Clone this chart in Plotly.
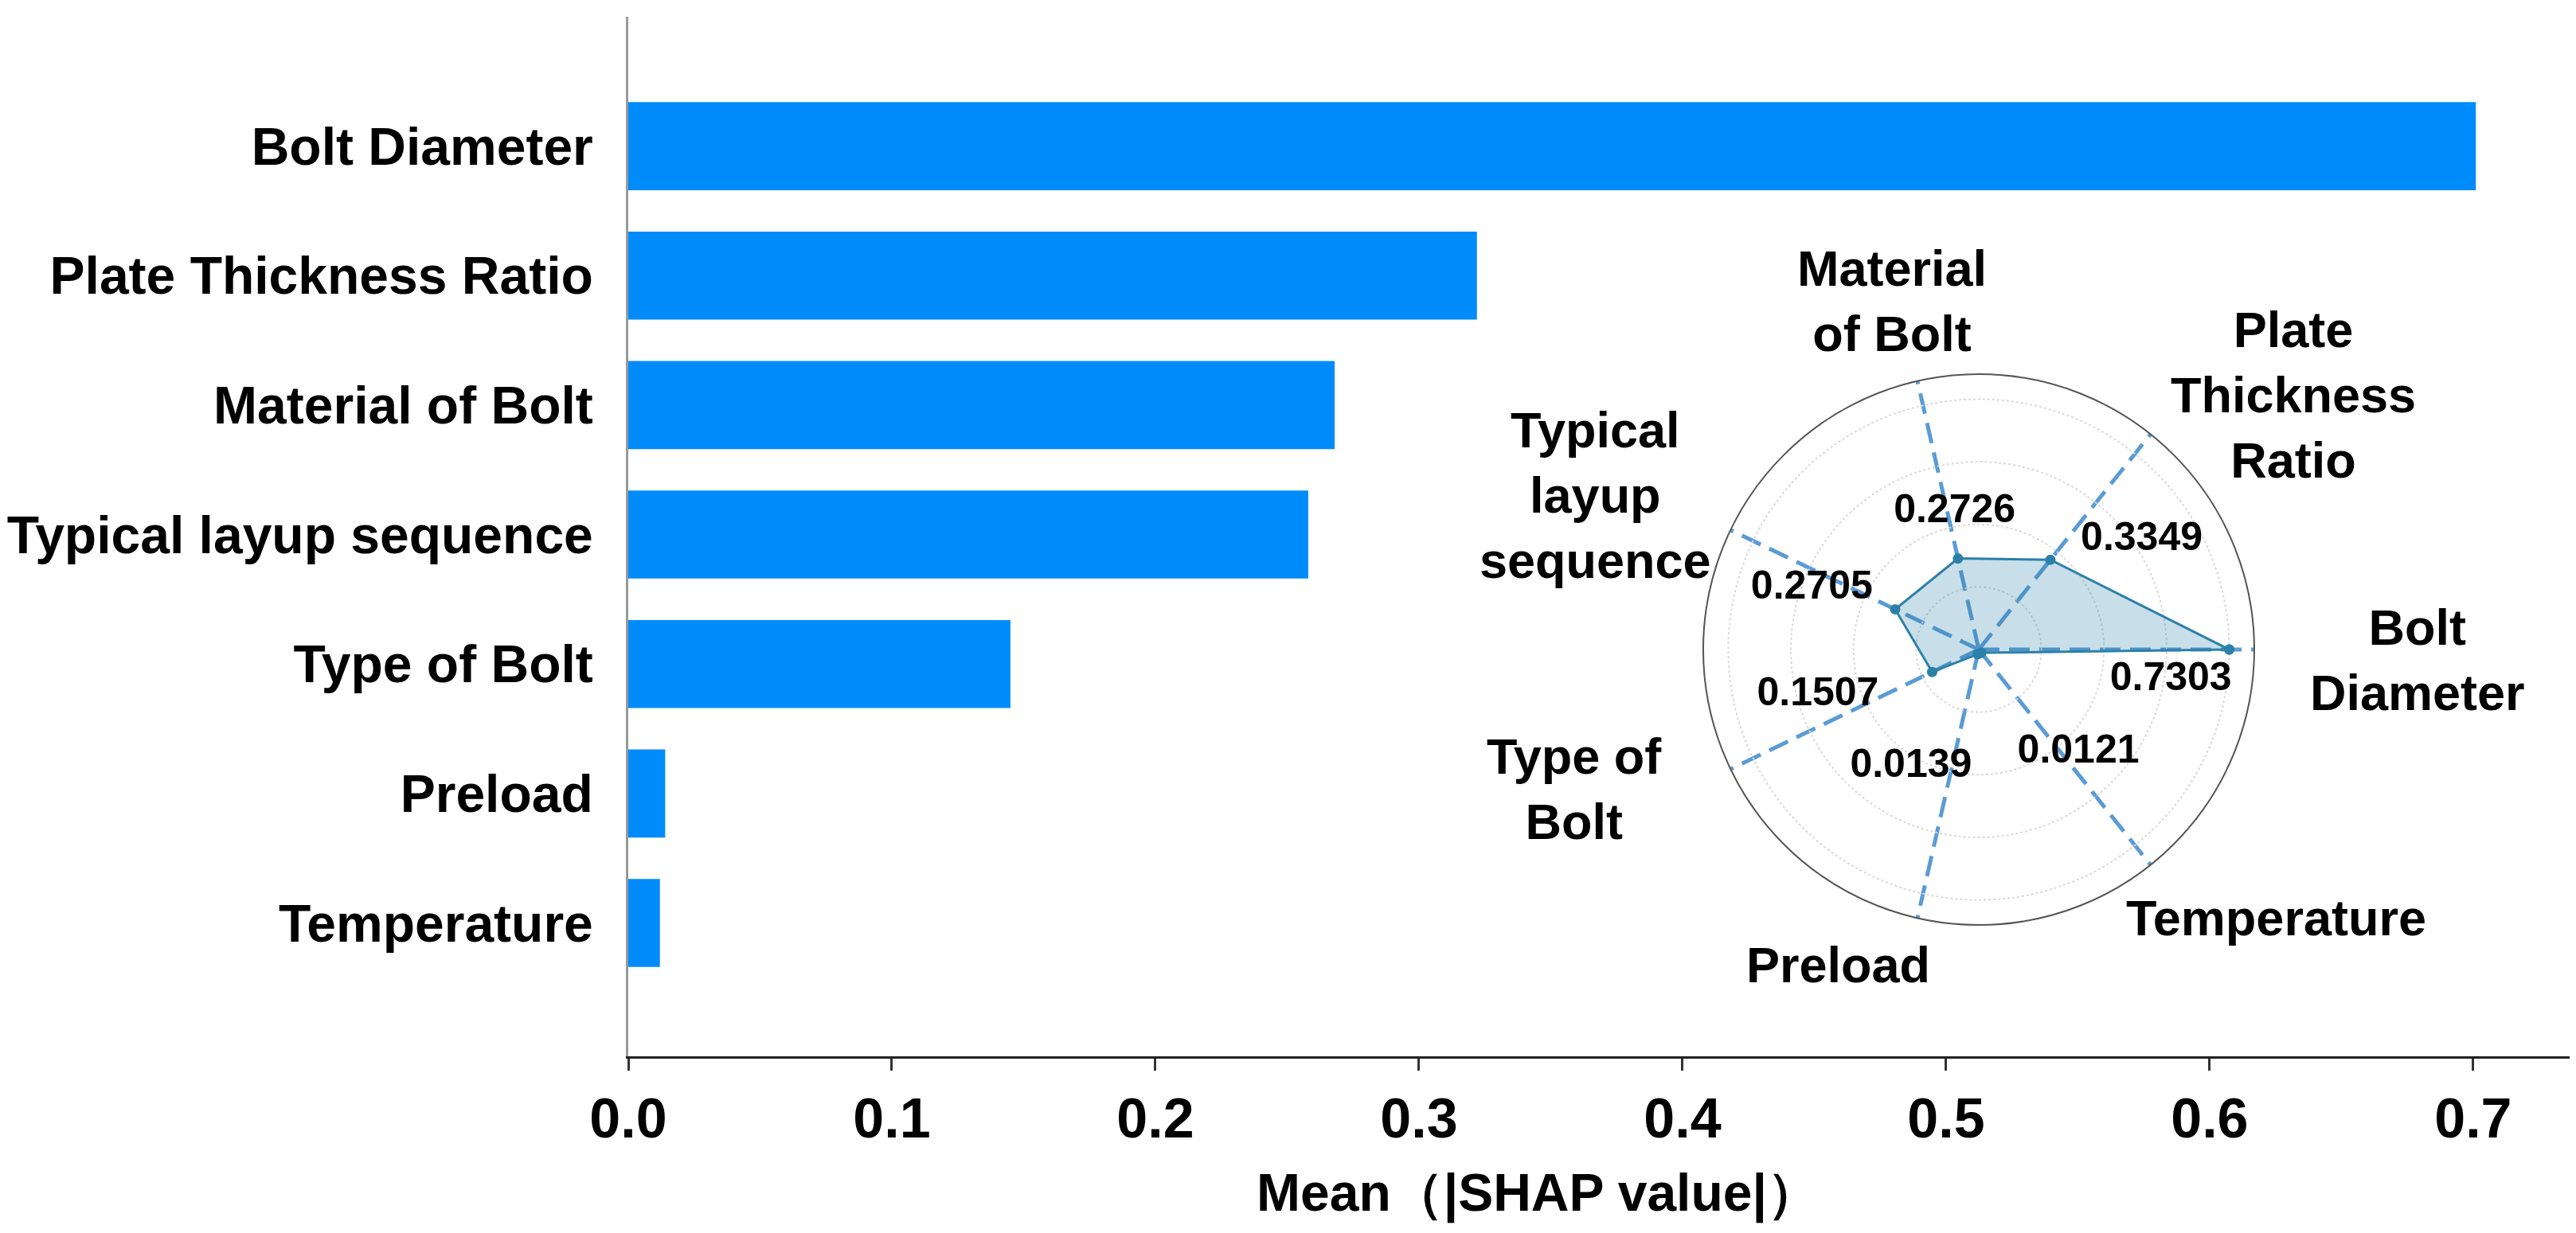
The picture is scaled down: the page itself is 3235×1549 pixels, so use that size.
import math
import plotly.graph_objects as go

# ---------------- data ----------------
features = ["Bolt Diameter", "Plate Thickness Ratio", "Material of Bolt",
            "Typical layup sequence", "Type of Bolt", "Preload", "Temperature"]
bar_values = [0.701, 0.322, 0.268, 0.258, 0.145, 0.014, 0.012]

radar_labels = ["Bolt<br>Diameter", "Plate<br>Thickness<br>Ratio", "Material<br>of Bolt",
                "Typical<br>layup<br>sequence", "Type of<br>Bolt", "Preload", "Temperature"]
radar_values = [0.7303, 0.3349, 0.2726, 0.2705, 0.1507, 0.0139, 0.0121]

x_ticks = [0.0, 0.1, 0.2, 0.3, 0.4, 0.5, 0.6, 0.7]
x_title = "Mean（|SHAP value|）"

# label placement for the inset radar (angle in degrees, distance from centre)
value_label_angle = [351, 34, 100, 160, 196, 240, 314]
value_label_dist = [0.567, 0.573, 0.406, 0.518, 0.488, 0.395, 0.418]   # radial units
cat_label_angle = [-1.4, 39, 104, 158, 199, 246, 318]
cat_label_dist = [551, 508, 451, 519, 537, 433, 503]                     # pixels

# ---------------- layout constants ----------------
W, H = 3235, 1549
ML, MR, MT, MB = 781, 12, 13, 230
PW, PH = W - ML - MR, H - MT - MB
FONT = "Liberation Sans, Arial, sans-serif"
BAR_COLOR = "#008bfb"
POLY_COLOR = "#2b80a8"

polar_dom_x = [0.5528, 0.8362]
polar_dom_y = [0.1263, 0.6562]

fig = go.Figure()

fig.add_trace(go.Bar(
    x=bar_values, y=features, orientation="h",
    marker=dict(color=BAR_COLOR, line=dict(width=0)),
    width=0.68, showlegend=False, hoverinfo="x+y",
))

n = len(radar_values)
theta = [i * 360.0 / n for i in range(n)]
rmax = max(radar_values) * 1.1

fig.add_trace(go.Scatterpolar(
    r=radar_values + [radar_values[0]],
    theta=theta + [theta[0]],
    mode="lines+markers",
    fill="toself",
    fillcolor="rgba(43,128,168,0.26)",
    line=dict(color=POLY_COLOR, width=3),
    marker=dict(color=POLY_COLOR, size=13),
    showlegend=False,
    subplot="polar",
))

fig.add_trace(go.Scatterpolar(
    r=value_label_dist,
    theta=value_label_angle,
    mode="text",
    text=[f"{v:.4f}" for v in radar_values],
    textfont=dict(family=FONT, size=50, color="black", weight="bold"),
    showlegend=False,
    hoverinfo="skip",
    subplot="polar",
))

# category labels around the radar as annotations
cx = ML + PW * (polar_dom_x[0] + polar_dom_x[1]) / 2
cy = MT + PH * (1 - (polar_dom_y[0] + polar_dom_y[1]) / 2)
annotations = []
for lab, ang, dist in zip(radar_labels, cat_label_angle, cat_label_dist):
    px = cx + dist * math.cos(math.radians(ang))
    py = cy - dist * math.sin(math.radians(ang))
    annotations.append(dict(
        x=(px - ML) / PW, y=(MT + PH - py) / PH, xref="paper", yref="paper",
        text=f"<b>{lab}</b>", showarrow=False, xanchor="center", yanchor="middle",
        align="center", font=dict(family=FONT, size=63, color="black"),
    ))

annotations.append(dict(
    x=(1923 - ML) / PW, y=(MT + PH - 1491) / PH, xref="paper", yref="paper",
    text=f"<b>{x_title}</b>", showarrow=False, xanchor="center", yanchor="middle",
    font=dict(family=FONT, size=66, color="black"),
))

fig.update_layout(
    width=W, height=H,
    margin=dict(l=ML, r=MR, t=MT, b=MB, pad=0, autoexpand=False),
    paper_bgcolor="white", plot_bgcolor="white",
    font=dict(family=FONT, color="black"),
    bargap=0.32,
    xaxis=dict(
        range=[0, 0.7378], tickvals=x_ticks, ticktext=[f"{v:.1f}" for v in x_ticks],
        showgrid=False, zeroline=False, automargin=False,
        showline=True, linecolor="#222222", linewidth=3,
        ticks="outside", ticklen=15, tickwidth=3, tickcolor="#333333",
        tickfont=dict(family=FONT, size=70, color="black", weight="bold"),
    ),
    yaxis=dict(
        categoryorder="array", categoryarray=features[::-1],
        range=[-1.03, 7.0], automargin=False,
        showgrid=False, zeroline=False,
        showline=True, linecolor="#999999", linewidth=3,
        ticks="outside", ticklen=28, tickcolor="rgba(0,0,0,0)",
        tickfont=dict(family=FONT, size=66, color="black", weight="bold"),
    ),
    polar=dict(
        domain=dict(x=polar_dom_x, y=polar_dom_y),
        bgcolor="rgba(0,0,0,0)",
        angularaxis=dict(
            type="linear", thetaunit="degrees", rotation=0, direction="counterclockwise",
            tickmode="array", tickvals=theta, showticklabels=False, ticks="",
            showgrid=True, gridcolor="#5b9bd5", gridwidth=5, griddash="26px,12px",
            showline=True, linecolor="#555555", linewidth=2,
        ),
        radialaxis=dict(
            range=[0, rmax], tickvals=[rmax / 1.1 * k / 4 for k in range(1, 5)],
            showticklabels=False, ticks="", showline=False,
            showgrid=True, gridcolor="#d9d9d9", gridwidth=2, griddash="dot",
        ),
    ),
    annotations=annotations,
)

fig.write_html("out.html")
